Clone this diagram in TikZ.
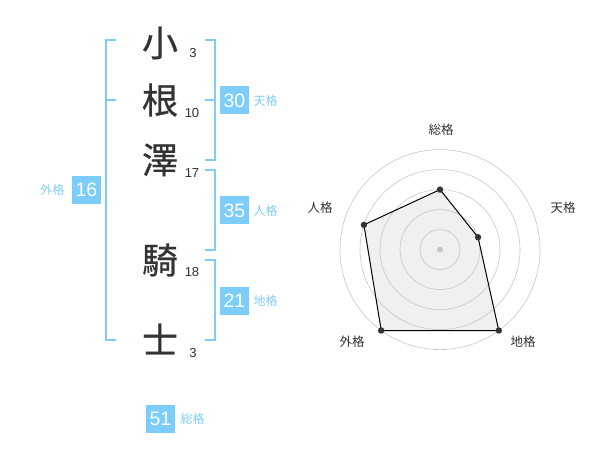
\documentclass[tikz,border=0pt]{standalone}
\usepackage{fontspec}
\setmainfont{Noto Sans CJK JP}
\newfontfamily\kanjifont{Noto Sans CJK JP}[FakeBold=0.6]
\newfontfamily\digitfont{Liberation Sans}
\usetikzlibrary{positioning}
\definecolor{kakublue}{RGB}{125,205,250}
\definecolor{inkgray}{RGB}{51,51,51}
\begin{document}
\begin{tikzpicture}[x=1pt,y=-1pt,semithick]
\tikzstyle{kanji}=[text=inkgray,font=\kanjifont\fontsize{36}{36}\selectfont,inner sep=0pt]
\tikzstyle{kakusu}=[text=inkgray,font=\digitfont\fontsize{13}{13}\selectfont,inner sep=0pt]
\tikzstyle{kakubox}=[fill=kakublue,text=white,font=\digitfont\fontsize{19.5}{19.5}\selectfont,minimum width=29pt,minimum height=28pt,inner sep=0pt]
\tikzstyle{kakulabel}=[text=kakublue,font=\fontsize{12}{12}\selectfont,inner sep=0pt]
\tikzstyle{bracket}=[draw=kakublue,line width=1.5pt]
\tikzstyle{axis}=[text=inkgray,font=\fontsize{12.5}{12.5}\selectfont,inner sep=0pt]
\tikzstyle{ring}=[draw=gray!45,line width=0.6pt]
\useasboundingbox (0,0) rectangle (600,470);
% name
\node[kanji] (k1) at (160,43) {小};
\node[kanji] (k2) at (160,100) {根};
\node[kanji] (k3) at (160,160) {澤};
\node[kanji] (k4) at (160,260) {騎};
\node[kanji] (k5) at (160,339) {士};
\node[kakusu] (n1) at (193,53) {3};
\node[kakusu] (n2) at (192,113) {10};
\node[kakusu] (n3) at (192,173) {17};
\node[kakusu] (n4) at (192,272) {18};
\node[kakusu] (n5) at (193,353) {3};
% brackets
\draw[bracket] (116,40) -- (106,40) -- (106,340) -- (116,340) (106,100) -- (116,100);
\draw[bracket] (205,40) -- (215,40) -- (215,160) -- (205,160) (215,100) -- (205,100);
\draw[bracket] (205,170) -- (215,170) -- (215,250) -- (205,250);
\draw[bracket] (205,260) -- (215,260) -- (215,340) -- (205,340);
% results
\node[kakubox] (ten) at (234.5,100.5) {30};
\node[kakulabel][right=4pt of ten] (tenl) {天格};
\node[kakubox] (jin) at (234.5,210.5) {35};
\node[kakulabel][right=4pt of jin] (jinl) {人格};
\node[kakubox] (chi) at (234.5,301) {21};
\node[kakulabel][right=4pt of chi] (chil) {地格};
\node[kakubox] (gai) at (86.5,190) {16};
\node[kakulabel][left=7pt of gai] (gail) {外格};
\node[kakubox] (sou) at (160.5,419) {51};
\node[kakulabel][right=5pt of sou] (soul) {総格};
% radar
\coordinate (c) at (440,249.6);
\path (c) +(-90:60) coordinate (rsou) +(-18:40) coordinate (rten)
          +(54:100) coordinate (rchi) +(126:100) coordinate (rgai)
          +(-162:80) coordinate (rjin);
\fill[gray!12] (rsou) -- (rten) -- (rchi) -- (rgai) -- (rjin) -- cycle;
\foreach \r in {20,40,...,100}
  \draw[ring] (c) circle (\r pt);
\fill[gray!45] (c) circle (3pt);
\draw[black,line width=1pt] (rsou) -- (rten) -- (rchi) -- (rgai) -- (rjin) -- cycle;
\foreach \p in {rsou,rten,rchi,rgai,rjin}
  \fill[inkgray] (\p) circle (3.2pt);
\node[axis] (asou) at (441,130) {総格};
\node[axis] (aten) at (563,208) {天格};
\node[axis] (ajin) at (320,208) {人格};
\node[axis] (agai) at (352,342) {外格};
\node[axis] (achi) at (523,342) {地格};
\end{tikzpicture}
\end{document}
